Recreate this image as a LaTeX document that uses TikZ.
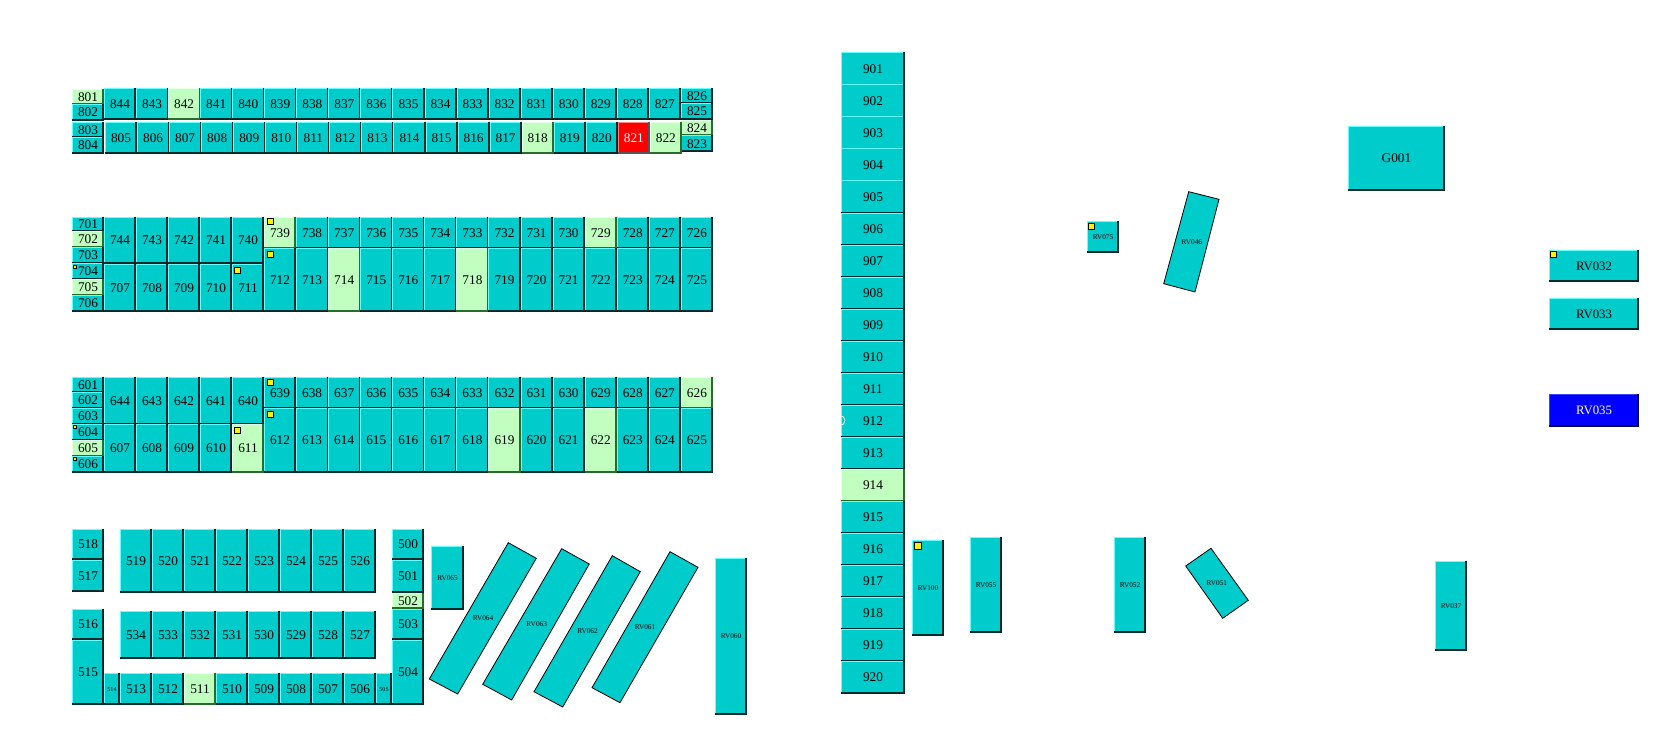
\documentclass[tikz,border=0pt]{standalone}
\usepackage{fontspec}
\setmainfont{Liberation Serif}
\usetikzlibrary{calc}
\definecolor{cT}{HTML}{00CCCC}\definecolor{hT}{HTML}{66FFFF}\definecolor{lT}{HTML}{002A2A}
\definecolor{cG}{HTML}{C0FFC0}\definecolor{hG}{HTML}{E8FFE8}\definecolor{lG}{HTML}{2A6A2A}
\definecolor{cR}{HTML}{FF0000}\definecolor{hR}{HTML}{FF8080}\definecolor{lR}{HTML}{555555}
\definecolor{cB}{HTML}{0000FF}\definecolor{hB}{HTML}{4040FF}\definecolor{lB}{HTML}{000040}
\colorlet{xT}{black}\colorlet{xG}{black}\colorlet{xR}{white}\colorlet{xB}{white}
\tikzset{
  x=1pt,y=-1pt,
  cellbox/.style={rectangle,inner sep=0pt,outer sep=0pt,align=center},
  fn/.style={font=\fontsize{13.3}{14}\selectfont},
  fs/.style={font=\fontsize{6.2}{7}\selectfont},
  fr/.style={font=\fontsize{7.3}{8}\selectfont},
  fb/.style={font=\fontsize{12.8}{14}\selectfont},
  hiedge/.style={line width=1pt},
  loedge/.style={line width=1.6pt},
  ymk/.style={rectangle,draw=black,fill=yellow,line width=.6pt,inner sep=0pt,outer sep=0pt},
  slant/.style={fill=cT,draw=black,line width=.8pt,line join=miter},
  slantlabel/.style={fr,inner sep=0pt},
}
% \cell[kind]{font}{label}{x0}{y0}{x1}{y1}
\newcommand\cell[7][T]{%
  \pgfmathsetmacro\cw{(#6)-(#4)}\pgfmathsetmacro\ch{(#7)-(#5)}%
  \pgfmathsetmacro\cx{((#4)+(#6))/2}\pgfmathsetmacro\cy{((#5)+(#7))/2}%
  \node[cellbox,#2,fill=c#1,text=x#1,minimum width=\cw pt,minimum height=\ch pt] (n#3) at (\cx,\cy) {#3};
  \draw[hiedge,h#1] ([xshift=.5pt]n#3.south west) -- ([xshift=.5pt,yshift=-.5pt]n#3.north west) -- ([yshift=-.5pt]n#3.north east);
  \draw[loedge,l#1] ([xshift=-.8pt]n#3.north east) -- ([xshift=-.8pt,yshift=.8pt]n#3.south east) -- ([yshift=.8pt]n#3.south west);
}
% \yb{name}{x0}{y0}{size}
\newcommand\yb[4]{\node[ymk,minimum size=#4pt,anchor=north west] (y#1) at (#2,#3) {};}
% \slantcell{label}{x1}{y1}{x2}{y2}{x3}{y3}{x4}{y4}
\newcommand\slantcell[9]{%
  \coordinate (#1a) at (#2,#3);\coordinate (#1b) at (#4,#5);\coordinate (#1c) at (#6,#7);\coordinate (#1d) at (#8,#9);
  \draw[slant] (#1a) -- (#1b) -- (#1c) -- (#1d) -- cycle;
  \node[slantlabel] (n#1) at ($(#1a)!.5!(#1c)$) {#1};
}
\begin{document}
\begin{tikzpicture}
\path[use as bounding box,fill=white] (0,0) rectangle (1675,754);

% ---- 800 block
\cell[G]{fn}{801}{72}{89}{104}{104.5}
\cell{fn}{802}{72}{104}{104}{121}
\cell{fn}{803}{72}{122}{104}{137.5}
\cell{fn}{804}{72}{137}{104}{154}
\cell{fn}{826}{681}{88}{713}{103.5}
\cell{fn}{825}{681}{103}{713}{120}
\cell[G]{fn}{824}{681}{120}{713}{136}
\cell{fn}{823}{681}{135.5}{713}{152}
\foreach \lab/\k [count=\i from 0] in {844/T,843/T,842/G,841/T,840/T,839/T,838/T,837/T,836/T,835/T,834/T,833/T,832/T,831/T,830/T,829/T,828/T,827/T}{
  \cell[\k]{fn}{\lab}{104+\i*32.05}{88}{136.05+\i*32.05}{120}
}
\foreach \lab/\k [count=\i from 0] in {805/T,806/T,807/T,808/T,809/T,810/T,811/T,812/T,813/T,814/T,815/T,816/T,817/T,818/G,819/T,820/T,821/R,822/G}{
  \cell[\k]{fn}{\lab}{105+\i*32.05}{122}{137.05+\i*32.05}{154}
}

% ---- 700 block
\cell{fn}{701}{72}{217}{104}{232}
\cell[G]{fn}{702}{72}{231}{104}{248}
\cell{fn}{703}{72}{247}{104}{264}
\cell{fn}{704}{72}{263}{104}{280}
\cell[G]{fn}{705}{72}{279}{104}{296}
\cell{fn}{706}{72}{295}{104}{312}
\foreach \lab [count=\i from 0] in {744,743,742,741,740}{
  \cell{fn}{\lab}{104+\i*32}{217}{136+\i*32}{264}
}
\foreach \lab/\k [count=\i from 0] in {707/T,708/T,709/T,710/T,711/T}{
  \cell[\k]{fn}{\lab}{104+\i*32}{264}{136+\i*32}{312}
}
\foreach \lab/\k [count=\i from 0] in {739/G,738/T,737/T,736/T,735/T,734/T,733/T,732/T,731/T,730/T,729/G,728/T,727/T,726/T}{
  \cell[\k]{fn}{\lab}{264+\i*32.07}{217}{296.07+\i*32.07}{248.5}
}
\foreach \lab/\k [count=\i from 0] in {712/T,713/T,714/G,715/T,716/T,717/T,718/G,719/T,720/T,721/T,722/T,723/T,724/T,725/T}{
  \cell[\k]{fn}{\lab}{264+\i*32.07}{248}{296.07+\i*32.07}{312}
}
\yb{739}{267}{218}{6}
\yb{712}{267}{251}{6}
\yb{711}{234}{267}{6}
\yb{704}{73}{265}{3}

% ---- 600 block
\cell{fn}{601}{72}{377}{104}{393}
\cell{fn}{602}{72}{392}{104}{409}
\cell{fn}{603}{72}{408}{104}{425}
\cell{fn}{604}{72}{424}{104}{441}
\cell[G]{fn}{605}{72}{440}{104}{457}
\cell{fn}{606}{72}{456}{104}{473}
\foreach \lab [count=\i from 0] in {644,643,642,641,640}{
  \cell{fn}{\lab}{104+\i*32}{377}{136+\i*32}{425}
}
\foreach \lab/\k [count=\i from 0] in {607/T,608/T,609/T,610/T,611/G}{
  \cell[\k]{fn}{\lab}{104+\i*32}{424}{136+\i*32}{473}
}
\foreach \lab/\k [count=\i from 0] in {639/T,638/T,637/T,636/T,635/T,634/T,633/T,632/T,631/T,630/T,629/T,628/T,627/T,626/G}{
  \cell[\k]{fn}{\lab}{264+\i*32.07}{377}{296.07+\i*32.07}{408.5}
}
\foreach \lab/\k [count=\i from 0] in {612/T,613/T,614/T,615/T,616/T,617/T,618/T,619/G,620/T,621/T,622/G,623/T,624/T,625/T}{
  \cell[\k]{fn}{\lab}{264+\i*32.07}{408}{296.07+\i*32.07}{473}
}
\yb{639}{267}{379}{6}
\yb{612}{267}{411}{6}
\yb{611}{234}{427}{6}
\yb{604}{73}{425}{3}
\yb{606}{73}{457}{3}

% ---- 500 block
\cell{fn}{518}{72}{529}{104}{560}
\cell{fn}{517}{72}{560}{104}{592}
\cell{fn}{516}{72}{609}{104}{640}
\cell{fn}{515}{72}{640}{104}{705}
\cell{fs}{514}{104}{673}{120}{705}
\foreach \lab/\k [count=\i from 0] in {513/T,512/T,511/G,510/T,509/T,508/T,507/T,506/T}{
  \cell[\k]{fn}{\lab}{120+\i*32}{673}{152+\i*32}{705}
}
\cell{fs}{505}{376}{673}{392}{705}
\foreach \lab [count=\i from 0] in {519,520,521,522,523,524,525,526}{
  \cell{fn}{\lab}{120+\i*32}{529}{152+\i*32}{593}
}
\foreach \lab [count=\i from 0] in {534,533,532,531,530,529,528,527}{
  \cell{fn}{\lab}{120+\i*32}{611}{152+\i*32}{659}
}
\cell{fn}{500}{392}{529}{424}{560}
\cell{fn}{501}{392}{560}{424}{593}
\cell[G]{fn}{502}{392}{593}{424}{609}
\cell{fn}{503}{392}{609}{424}{640}
\cell{fn}{504}{392}{640}{424}{705}

\cell{fr}{RV065}{431}{546}{464}{610}
\slantcell{RV064}{508.3}{542.7}{536.3}{558.3}{457.7}{694}{429.3}{679}
\slantcell{RV063}{561.7}{548.7}{589.3}{564}{511.7}{700}{482.7}{684.3}
\slantcell{RV062}{612.3}{555.7}{640.3}{571.7}{562.7}{707}{534}{691.7}
\slantcell{RV061}{670}{551.7}{698}{567.3}{620}{702.7}{592}{687.7}
\cell{fr}{RV060}{715}{558}{747}{715}

% ---- 900 column
\foreach \lab/\k [count=\i from 0] in {901/T,902/T,903/T,904/T,905/T,906/T,907/T,908/T,909/T,910/T,911/T,912/T,913/T,914/G,915/T,916/T,917/T,918/T,919/T,920/T}{
  \cell[\k]{fn}{\lab}{841}{52.5+\i*32}{905}{85.5+\i*32}
}
\node[circle,draw=white,line width=.7pt,minimum size=10pt,inner sep=0pt] (ring) at (840,420.5) {};

% ---- RV units
\cell{fr}{RV100}{912}{540}{944}{636}
\yb{RV100}{914}{542}{7}
\cell{fr}{RV055}{970}{537}{1002}{633}
\cell{fr}{RV075}{1087}{221}{1119}{253}
\yb{RV075}{1088}{223}{6}
\slantcell{RV046}{1188.7}{191.7}{1219}{199.3}{1195}{292}{1163.7}{283.7}
\cell{fr}{RV052}{1114}{537}{1146}{633}
\slantcell{RV051}{1211}{548.3}{1248.3}{600.3}{1222.7}{618.3}{1185.7}{566}
\cell{fr}{RV037}{1435}{561}{1467}{651}
\cell{fn}{G001}{1348}{126}{1445}{191}
\cell{fb}{RV032}{1549}{250}{1639}{282}
\yb{RV032}{1550}{251}{6}
\cell{fb}{RV033}{1549}{298}{1639}{330}
\cell[B]{fb}{RV035}{1549}{394}{1639}{427}
\end{tikzpicture}
\end{document}
